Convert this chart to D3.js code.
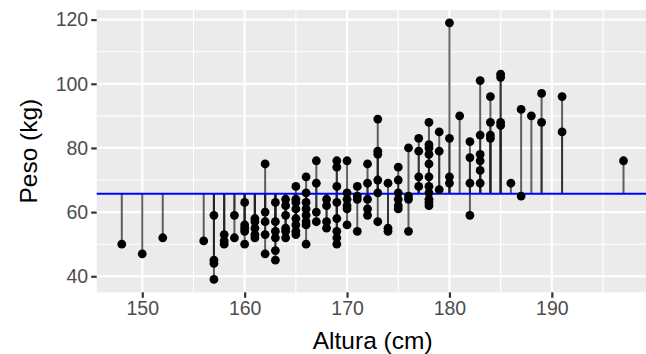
<!DOCTYPE html>
<html>
<head>
<meta charset="utf-8">
<script src="https://cdn.jsdelivr.net/npm/d3@7"></script>
<style>
  body { margin: 0; background: #fff; }
  svg { display: block; font-family: "Liberation Sans", Arial, sans-serif; }
</style>
</head>
<body>
<svg id="chart" width="646" height="354"></svg>
<script>
// altura (cm) / peso (kg), one entry per person
const alturas = [
  148, 150, 152, 156,
  157, 157, 157, 157,
  158, 158, 158,
  159, 159,
  160, 160, 160, 160, 160,
  161, 161, 161, 161, 161,
  162, 162, 162, 162, 162,
  163, 163, 163, 163, 163, 163,
  164, 164, 164, 164, 164, 164,
  165, 165, 165, 165, 165, 165, 165, 165,
  166, 166, 166, 166, 166, 166, 166, 166,
  167, 167, 167, 167,
  168, 168, 168, 168,
  169, 169, 169, 169, 169, 169, 169, 169,
  170, 170, 170, 170, 170, 170,
  171, 171, 171, 171,
  172, 172, 172, 172, 172,
  173, 173, 173, 173, 173, 173,
  174, 174, 174,
  175, 175, 175, 175, 175, 175,
  176, 176, 176, 176,
  177, 177, 177, 177,
  178, 178, 178, 178, 178, 178, 178, 178, 178, 178, 178,
  179, 179, 179,
  180, 180, 180, 180,
  181,
  182, 182, 182, 182,
  183, 183, 183, 183, 183, 183,
  184, 184, 184, 184,
  185, 185, 185, 185,
  186,
  187, 187,
  188,
  189, 189,
  191, 191,
  197
];
const pesos = [
  50, 47, 52, 51,
  59, 45, 44, 39,
  53, 51, 50,
  59, 52,
  63, 56, 55, 54, 50,
  58, 57, 55, 53, 52,
  75, 60, 57, 53, 47,
  63, 57, 54, 52, 48, 45,
  64, 62, 59, 55, 54, 52,
  68, 64, 63, 61, 58, 56, 54, 53,
  71, 66, 63, 61, 59, 57, 56, 50,
  76, 69, 60, 57,
  64, 62, 57, 55,
  76, 74, 68, 63, 58, 54, 52, 50,
  76, 66, 64, 62, 61, 56,
  68, 65, 64, 54,
  75, 69, 64, 61, 59,
  89, 79, 78, 70, 66, 57,
  69, 55, 54,
  74, 70, 66, 64, 62, 61,
  80, 65, 64, 54,
  83, 79, 71, 68,
  88, 81, 80, 78, 75, 71, 68, 66, 64, 63, 62,
  85, 79, 67,
  119, 83, 71, 69,
  90,
  82, 77, 69, 59,
  101, 84, 78, 76, 73, 69,
  96, 88, 84, 83,
  103, 102, 88, 87,
  69,
  92, 65,
  90,
  97, 88,
  96, 85,
  76
];
const pesoMedio = 65.7; // horizontal reference line (mean weight)
const xTicks = [150, 160, 170, 180, 190];
const xMinor = [155, 165, 175, 185, 195];
const yTicks = [40, 60, 80, 100, 120];
const yMinor = [50, 70, 90, 110];

const data = alturas.map((a, i) => ({ altura: a, peso: pesos[i] }));

const panel = { left: 96.7, right: 648.6, top: 10, bottom: 292.3 };

// ggplot-style 5% expansion of the data range
const xExt = d3.extent(alturas), yExt = d3.extent(pesos);
const xPad = (xExt[1] - xExt[0]) * 0.05, yPad = (yExt[1] - yExt[0]) * 0.05;

const x = d3.scaleLinear()
  .domain([xExt[0] - xPad, xExt[1] + xPad])
  .range([panel.left, panel.right]);
const y = d3.scaleLinear()
  .domain([yExt[0] - yPad, yExt[1] + yPad])
  .range([panel.bottom, panel.top]);

const svg = d3.select("#chart");

svg.append("rect")
  .attr("x", panel.left).attr("y", panel.top)
  .attr("width", panel.right - panel.left)
  .attr("height", panel.bottom - panel.top)
  .attr("fill", "#ebebeb");

const grid = svg.append("g");
grid.selectAll(".ymin").data(yMinor).join("line")
  .attr("x1", panel.left).attr("x2", panel.right)
  .attr("y1", d => y(d)).attr("y2", d => y(d))
  .attr("stroke", "#fff").attr("stroke-width", 1.1);
grid.selectAll(".xmin").data(xMinor).join("line")
  .attr("y1", panel.top).attr("y2", panel.bottom)
  .attr("x1", d => x(d)).attr("x2", d => x(d))
  .attr("stroke", "#fff").attr("stroke-width", 1.1);
grid.selectAll(".ymaj").data(yTicks).join("line")
  .attr("x1", panel.left).attr("x2", panel.right)
  .attr("y1", d => y(d)).attr("y2", d => y(d))
  .attr("stroke", "#fff").attr("stroke-width", 2.2);
grid.selectAll(".xmaj").data(xTicks).join("line")
  .attr("y1", panel.top).attr("y2", panel.bottom)
  .attr("x1", d => x(d)).attr("x2", d => x(d))
  .attr("stroke", "#fff").attr("stroke-width", 2.2);

// segments from the mean to each point
svg.append("g").selectAll("line").data(data).join("line")
  .attr("x1", d => x(d.altura)).attr("x2", d => x(d.altura))
  .attr("y1", y(pesoMedio)).attr("y2", d => y(d.peso))
  .attr("stroke", "#222").attr("stroke-opacity", 0.7)
  .attr("stroke-width", 2);

svg.append("line")
  .attr("x1", panel.left).attr("x2", panel.right)
  .attr("y1", y(pesoMedio)).attr("y2", y(pesoMedio))
  .attr("stroke", "#0000ff").attr("stroke-width", 2.1);

svg.append("g").selectAll("circle").data(data).join("circle")
  .attr("cx", d => x(d.altura)).attr("cy", d => y(d.peso))
  .attr("r", 4.4).attr("fill", "#000");

// axes
const xAxis = svg.append("g")
  .attr("transform", `translate(0,${panel.bottom})`)
  .call(d3.axisBottom(x).tickValues(xTicks).tickSize(5.5).tickPadding(3));
const yAxis = svg.append("g")
  .attr("transform", `translate(${panel.left},0)`)
  .call(d3.axisLeft(y).tickValues(yTicks).tickSize(5.5).tickPadding(3));

[xAxis, yAxis].forEach(g => {
  g.select(".domain").remove();
  g.selectAll(".tick line").attr("stroke", "#333").attr("stroke-width", 2.2);
  g.selectAll(".tick text")
    .attr("fill", "#4d4d4d")
    .style("font-size", "19.5px")
    .style("font-family", "'Liberation Sans', Arial, sans-serif");
});

svg.append("text")
  .attr("x", (panel.left + panel.right) / 2).attr("y", 349)
  .attr("text-anchor", "middle")
  .style("font-size", "24.5px")
  .text("Altura (cm)");

svg.append("text")
  .attr("transform", `translate(36.5,${(panel.top + panel.bottom) / 2}) rotate(-90)`)
  .attr("text-anchor", "middle")
  .style("font-size", "24.5px")
  .text("Peso (kg)");
</script>
</body>
</html>
